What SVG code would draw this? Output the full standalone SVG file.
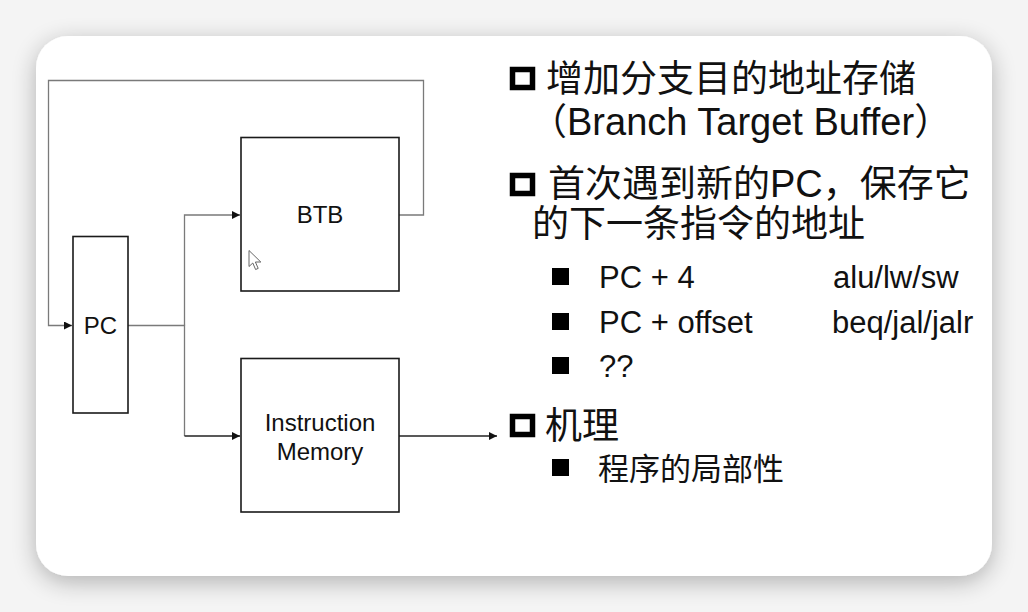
<svg xmlns="http://www.w3.org/2000/svg" width="1028" height="612" viewBox="0 0 1028 612">
  <defs>
    <filter id="cardShadow" x="-10%" y="-10%" width="120%" height="125%">
      <feGaussianBlur in="SourceAlpha" stdDeviation="12"/>
      <feOffset dy="6" result="blur"/>
      <feComponentTransfer><feFuncA type="linear" slope="0.28"/></feComponentTransfer>
      <feMerge><feMergeNode/><feMergeNode in="SourceGraphic"/></feMerge>
    </filter>
    <marker id="arrow" viewBox="0 0 10 10" refX="10" refY="5" markerWidth="9" markerHeight="8" markerUnits="userSpaceOnUse" orient="auto">
      <path d="M0,0 L10,5 L0,10 Z" fill="#111"/>
    </marker>
    <style>
      .box { fill: #ffffff; stroke: #1a1a1a; stroke-width: 1.6; }
      .wire { fill: none; stroke: #7a7a7a; stroke-width: 1.3; }
      .wire-dark { fill: none; stroke: #222; stroke-width: 1.3; }
      .lbl { font-family: "Liberation Sans", Arial, sans-serif; font-size: 24px; fill: #111; text-anchor: middle; }
      .main { font-family: "Liberation Sans", "Noto Sans CJK SC", sans-serif; font-size: 37px; fill: #111; }
      .lat { font-size: 38px; }
      .sub { font-family: "Liberation Sans", "Noto Sans CJK SC", sans-serif; font-size: 31px; fill: #111; }
      .hollow { fill: #ffffff; stroke: #000; stroke-width: 5.5; }
      .solid { fill: #000; }
    </style>
  </defs>

  <!-- page background and card -->
  <rect x="0" y="0" width="1028" height="612" fill="#f4f4f4"/>
  <rect x="36" y="36" width="956" height="540" rx="32" ry="32" fill="#ffffff" filter="url(#cardShadow)"/>

  <!-- connectors -->
  <g id="connectors">
    <path class="wire" d="M399,215 H423.5 V80.5 H48.5 V325.5 H72" marker-end="url(#arrow)"/>
    <path class="wire" d="M128,325.5 H184.5 V436"/>
    <path class="wire" d="M184.5,325.5 V215 H240" marker-end="url(#arrow)"/>
    <path class="wire-dark" d="M184.5,436 H240" marker-end="url(#arrow)"/>
    <path class="wire-dark" d="M399,436 H497" marker-end="url(#arrow)"/>
  </g>

  <!-- nodes -->
  <g id="pc">
    <rect class="box" x="73" y="236.5" width="55" height="176.5"/>
    <text class="lbl" x="100.5" y="334">PC</text>
  </g>
  <g id="btb">
    <rect class="box" x="241" y="137.5" width="158" height="153.5"/>
    <text class="lbl" x="320" y="223">BTB</text>
  </g>
  <g id="imem">
    <rect class="box" x="241" y="358.5" width="158" height="153.5"/>
    <text class="lbl" x="320" y="431">Instruction</text>
    <text class="lbl" x="320" y="460">Memory</text>
  </g>

  <!-- mouse pointer -->
  <path d="M249,250.5 V266.5 L252.8,263 L255.6,269.5 L258.2,268.4 L255.4,262 L260.8,262 Z" fill="#ffffff" stroke="#555" stroke-width="0.9" stroke-linejoin="round"/>

  <!-- bullet list -->
  <g id="bullets">
    <rect class="hollow" x="512.5" y="69.5" width="20" height="18"/>
    <text class="main" x="546" y="92">增加分支目的地址存储</text>
    <text class="main" x="530" y="135">（<tspan class="lat">Branch Target Buffer</tspan>）</text>

    <rect class="hollow" x="512.5" y="175.5" width="20" height="18"/>
    <text class="main" x="548" y="197">首次遇到新的<tspan class="lat">PC</tspan>，保存它</text>
    <text class="main" x="532" y="237">的下一条指令的地址</text>

    <rect class="solid" x="552" y="268" width="17" height="17"/>
    <text class="sub" x="599" y="288">PC + 4</text>
    <text class="sub" x="833" y="288">alu/lw/sw</text>

    <rect class="solid" x="552" y="313" width="17" height="17"/>
    <text class="sub" x="599" y="333">PC + offset</text>
    <text class="sub" x="832" y="333">beq/jal/jalr</text>

    <rect class="solid" x="552" y="357" width="17" height="17"/>
    <text class="sub" x="599" y="377">??</text>

    <rect class="hollow" x="512.5" y="416.5" width="20" height="18"/>
    <text class="main" x="545" y="439">机理</text>

    <rect class="solid" x="552" y="459" width="17" height="17"/>
    <text class="sub" x="598" y="480">程序的局部性</text>
  </g>
</svg>
